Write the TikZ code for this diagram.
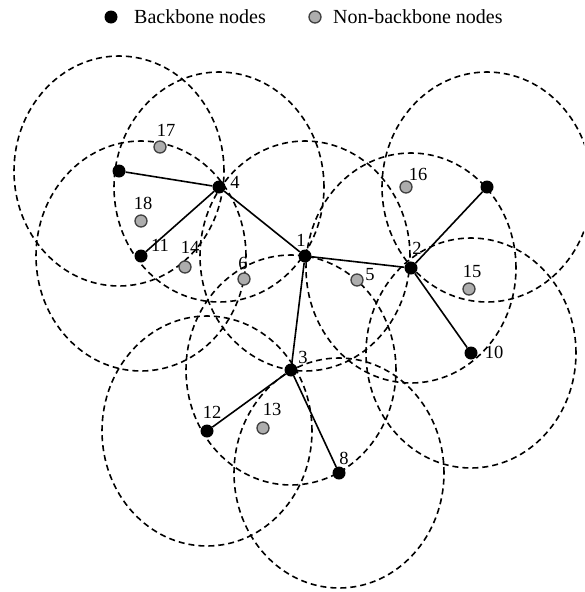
\documentclass[tikz,border=0pt]{standalone}
\usepackage{fontspec}
\setmainfont{Liberation Serif}
\begin{document}
\begin{tikzpicture}[x=1pt,y=-1pt,
  bb/.style={circle,fill=black,inner sep=0pt,minimum size=13pt},
  nb/.style={circle,fill=black!32,draw=black!75,line width=1.3pt,inner sep=0pt,minimum size=12pt},
  lbl/.style={inner sep=0pt,font=\fontsize{18.5}{20}\selectfont},
  lgt/.style={inner sep=0pt,anchor=west,font=\fontsize{20}{22}\selectfont},
  link/.style={line width=1.6pt},
  cover/.style={dash pattern=on 6pt off 4pt,line width=1.6pt},
]
\clip (0,0) rectangle (584,592);
% positions
\coordinate (pTL) at (119,171);
\coordinate (p4) at (219,187);
\coordinate (p11) at (141,256);
\coordinate (p1) at (305,256);
\coordinate (p2) at (411,268);
\coordinate (pTR) at (487,187);
\coordinate (p10) at (471,353);
\coordinate (p3) at (291,370);
\coordinate (p12) at (207,431);
\coordinate (p8) at (339,473);
% ranges
\foreach \c in {pTL,p4,p11,p1,p2,pTR,p10,p3,p12,p8}
  \draw[cover] (\c) ellipse [x radius=105pt, y radius=115pt];
% legend
\node[bb] (lgb) at (111,17) {};
\node[lgt] (lgbt) at (134,17) {Backbone nodes};
\node[nb] (lgn) at (315,17) {};
\node[lgt] (lgnt) at (333,17) {Non-backbone nodes};
% backbone nodes
\node[bb] (nTL) at (pTL) {};
\node[bb] (n4) at (p4) {};
\node[bb] (n11) at (p11) {};
\node[bb] (n1) at (p1) {};
\node[bb] (n2) at (p2) {};
\node[bb] (nTR) at (pTR) {};
\node[bb] (n10) at (p10) {};
\node[bb] (n3) at (p3) {};
\node[bb] (n12) at (p12) {};
\node[bb] (n8) at (p8) {};
% non-backbone nodes
\node[nb] (n17) at (160,147) {};
\node[nb] (n18) at (141,221) {};
\node[nb] (n14) at (185,267) {};
\node[nb] (n6) at (244,279) {};
\node[nb] (n5) at (357,280) {};
\node[nb] (n16) at (406,187) {};
\node[nb] (n15) at (469,289) {};
\node[nb] (n13) at (263,428) {};
% links
\draw[link] (nTL) -- (n4);
\draw[link] (n11) -- (n4);
\draw[link] (n4) -- (n1);
\draw[link] (n1) -- (n2);
\draw[link] (n2) -- (nTR);
\draw[link] (n2) -- (n10);
\draw[link] (n1) -- (n3);
\draw[link] (n3) -- (n12);
\draw[link] (n3) -- (n8);
% labels
\node[lbl] (l4) at (235,182) {4};
\node[lbl] (l17) at (166,130) {17};
\node[lbl] (l18) at (143,203) {18};
\node[lbl] (l11) at (160,245) {11};
\node[lbl] (l14) at (190,247) {14};
\node[lbl] (l6) at (243,263) {6};
\node[lbl] (l1) at (301,240) {1};
\node[lbl] (l2) at (417,248) {2};
\node[lbl] (l16) at (418,174) {16};
\node[lbl] (l5) at (370,275) {5};
\node[lbl] (l15) at (472,271) {15};
\node[lbl] (l3) at (303,357) {3};
\node[lbl] (l12) at (212,412) {12};
\node[lbl] (l13) at (272,409) {13};
\node[lbl] (l8) at (344,458) {8};
\node[lbl] (l10) at (494,352) {10};
\end{tikzpicture}
\end{document}
